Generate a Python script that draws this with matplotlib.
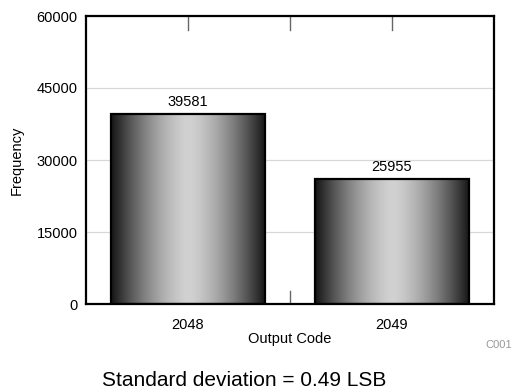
import matplotlib
matplotlib.use("Agg")
import matplotlib.pyplot as plt
import numpy as np

plt.rcParams["font.family"] = ["Liberation Sans", "DejaVu Sans"]

codes = [2048, 2049]
counts = [39581, 25955]
y_ticks = [0, 15000, 30000, 45000, 60000]
std_note = "Standard deviation = 0.49 LSB"
fig_id = "C001"

fig = plt.figure(figsize=(5.14, 3.89), dpi=100)
ax = fig.add_axes([86 / 514, 1 - 304 / 389, 408 / 514, 288 / 389])

# horizontal gradient: dark edges, light middle
xs = np.linspace(-1, 1, 256)
grad = 0.82 - 0.74 * np.abs(xs) ** 1.5
grad = grad[np.newaxis, :]

width = 0.755
bars = ax.bar(codes, counts, width=width, facecolor="none",
              edgecolor="black", linewidth=1.6, zorder=3)
for b, v in zip(bars, counts):
    x0 = b.get_x()
    ax.imshow(grad, cmap="gray", vmin=0, vmax=1, aspect="auto",
              extent=[x0, x0 + b.get_width(), 0, b.get_height()],
              interpolation="bicubic", zorder=2)
    ax.text(b.get_x() + b.get_width() / 2, v + 1100, str(v),
            ha="center", va="bottom", fontsize=10.5)

ax.set_xlim(codes[0] - 0.5, codes[-1] + 0.5)
ax.set_ylim(y_ticks[0], y_ticks[-1])
ax.set_yticks(y_ticks)
ax.set_yticklabels([str(t) for t in y_ticks], fontsize=10.5)
ax.yaxis.grid(True, color="#d8d8d8", linewidth=0.9, zorder=0)
ax.set_axisbelow(True)
ax.tick_params(axis="y", length=0, pad=6)

ax.set_xticks(codes)
ax.set_xticklabels([str(c) for c in codes], fontsize=10.5)
ax.tick_params(axis="x", length=0, pad=10)

# small inward marks at code positions and midpoint
for xm in [codes[0], (codes[0] + codes[1]) / 2, codes[1]]:
    ax.plot([xm, xm], [y_ticks[-1], y_ticks[-1] - 2900], color="#666666",
            linewidth=1, zorder=1)
ax.plot([(codes[0] + codes[1]) / 2] * 2, [0, 2700], color="#666666",
        linewidth=1, zorder=1)

for s in ax.spines.values():
    s.set_linewidth(1.6)

ax.set_ylabel("Frequency", fontsize=10.5, labelpad=9)
ax.set_xlabel("Output Code", fontsize=10.5, labelpad=0)

fig.text(512 / 514, 1 - 345 / 389, fig_id, fontsize=8, color="#999999",
         ha="right", va="center")
fig.text(244 / 514, 1 - 386 / 389, std_note, fontsize=15,
         ha="center", va="baseline")

fig.savefig("out.png", dpi=100)
